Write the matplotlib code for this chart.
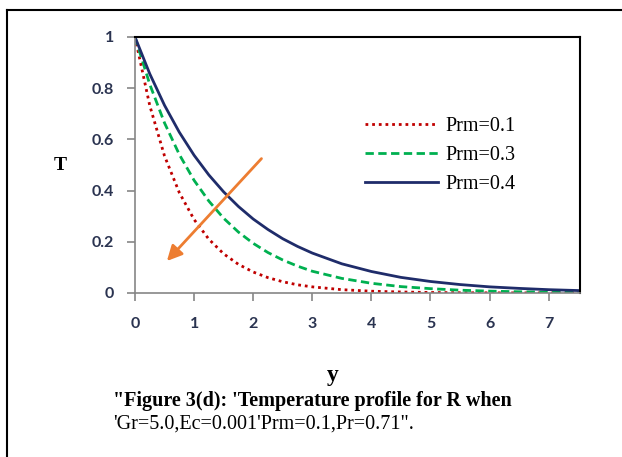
import matplotlib
matplotlib.use('Agg')
import matplotlib.pyplot as plt
from matplotlib.lines import Line2D

# Data
y_vals = [0, 0.25, 0.5, 0.75, 1, 1.25, 1.5, 1.75, 2, 2.25, 2.5, 2.75, 3,
          3.5, 4, 4.5, 5, 5.5, 6, 6.5, 7, 7.5]
T_prm01 = [1, 0.732, 0.535, 0.392, 0.287, 0.210, 0.153, 0.112, 0.082, 0.060,
           0.044, 0.032, 0.024, 0.013, 0.007, 0.004, 0.002, 0.001, 0.0006,
           0.0003, 0.0002, 0.0001]
T_prm03 = [1, 0.815, 0.664, 0.541, 0.440, 0.359, 0.292, 0.238, 0.194, 0.158,
           0.129, 0.105, 0.085, 0.057, 0.038, 0.025, 0.017, 0.011, 0.0073,
           0.0048, 0.0032, 0.0021]
T_prm04 = [1, 0.856, 0.733, 0.628, 0.538, 0.461, 0.395, 0.338, 0.289, 0.248,
           0.212, 0.182, 0.156, 0.114, 0.084, 0.061, 0.045, 0.033, 0.024,
           0.018, 0.013, 0.0096]
labels = ['Prm=0.1', 'Prm=0.3', 'Prm=0.4']
x_ticks = [0, 1, 2, 3, 4, 5, 6, 7]
y_ticks = [0, 0.2, 0.4, 0.6, 0.8, 1]
y_tick_labels = ['0', '0.2', '0.4', '0.6', '0.8', '1']

W, H = 622, 457
fig = plt.figure(figsize=(W / 100, H / 100), dpi=100)
ax = fig.add_axes([135 / W, 1 - 293 / H, 445 / W, 256 / H])

ax.plot(y_vals, T_prm01, color='#C00000', lw=2, linestyle=(0, (1, 1.4)), label=labels[0])
ax.plot(y_vals, T_prm03, color='#00B050', lw=2, linestyle=(0, (3, 1.6)), label=labels[1])
ax.plot(y_vals, T_prm04, color='#1F2C6A', lw=2, label=labels[2])

ax.set_xlim(0, 7.53)
ax.set_ylim(0, 1)
ax.set_xticks(x_ticks)
ax.set_yticks(y_ticks)
ax.set_yticklabels(y_tick_labels)

for lab in ax.get_xticklabels() + ax.get_yticklabels():
    lab.set_fontfamily('Lato')
    lab.set_fontsize(11.5)
    lab.set_fontweight('bold')
    lab.set_color('#2a3350')

ax.tick_params(axis='x', direction='out', length=6, width=1.2, color='#868686', pad=11)
ax.tick_params(axis='y', direction='out', length=6, width=1.2, color='#868686', pad=9)
for side in ['left', 'bottom']:
    ax.spines[side].set_color('#868686')
    ax.spines[side].set_linewidth(1.2)
for side in ['top', 'right']:
    ax.spines[side].set_color('black')
    ax.spines[side].set_linewidth(1.5)

# orange arrow showing increasing Prm direction
ax.annotate('', xy=(0.54, 0.125), xytext=(2.14, 0.525),
            arrowprops=dict(arrowstyle='-|>,head_length=0.9,head_width=0.45',
                            color='#ED7D31', lw=2, shrinkA=0, shrinkB=0))

leg = ax.legend(loc='upper left', bbox_to_anchor=((365 - 135) / 445, (293 - 117) / 256),
                frameon=False, borderpad=0, borderaxespad=0, handlelength=3.6,
                handletextpad=0.4, labelspacing=0.5,
                prop={'family': 'Liberation Serif', 'size': 14.5})

fig.text(60 / W, 1 - 165 / H, 'T', family='Liberation Serif', weight='bold',
         size=14, ha='center', va='center')
fig.text(333 / W, 1 - 375 / H, 'y', family='Liberation Serif', weight='bold',
         size=17, ha='center', va='center')
fig.text(113 / W, 1 - 401 / H, '"Figure 3(d): \'Temperature profile for R when',
         family='Liberation Serif', weight='bold', size=14.5, ha='left', va='center')
fig.text(113 / W, 1 - 424 / H, '\'Gr=5.0,Ec=0.001\'Prm=0.1,Pr=0.71".',
         family='Liberation Serif', size=14.5, ha='left', va='center')

# outer page frame (top and left edges visible)
fig.add_artist(Line2D([7 / W, 7 / W], [0, 1 - 10 / H], transform=fig.transFigure,
                      color='black', lw=1.5))
fig.add_artist(Line2D([7 / W, 1], [1 - 10 / H, 1 - 10 / H], transform=fig.transFigure,
                      color='black', lw=1.5))

fig.savefig('out.png', dpi=100)
